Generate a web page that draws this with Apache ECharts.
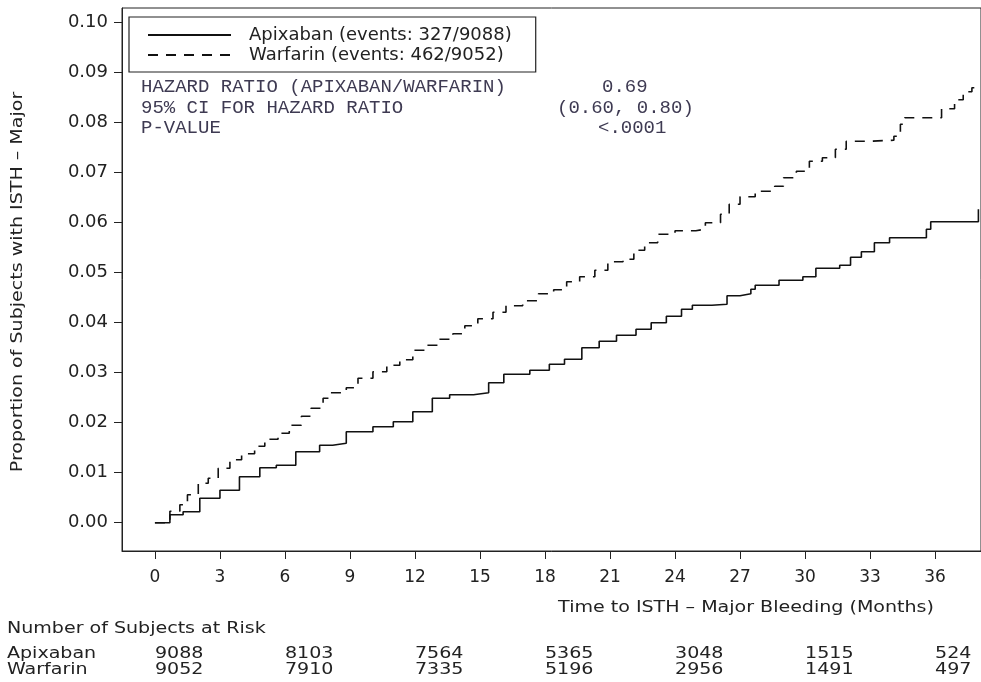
<!DOCTYPE html>
<html>
<head>
<meta charset="utf-8">
<script src="https://cdn.jsdelivr.net/npm/echarts@6/dist/echarts.min.js"></script>
<style>
  html, body { margin: 0; padding: 0; background: #ffffff; }
  #chart { width: 981px; height: 682px; }
</style>
</head>
<body>
<div id="chart"></div>
<script>
// Axis ticks
const monthTicks = [0, 3, 6, 9, 12, 15, 18, 21, 24, 27, 30, 33, 36];
const proportionTicks = [0, 0.01, 0.02, 0.03, 0.04, 0.05, 0.06, 0.07, 0.08, 0.09, 0.10];

// Kaplan-Meier cumulative event curves (month, proportion with event)
const apixabanMonths = [0, 0.69, 1.3, 2.07, 3.0, 3.9, 4.84, 5.6, 6.5, 7.6, 8.2, 8.83, 10.06, 11.0, 11.9, 12.8,
  13.6, 14.7, 15.4, 16.1, 17.3, 18.2, 18.9, 19.7, 20.5, 21.3, 22.2, 22.9, 23.6, 24.3, 24.8, 25.7, 26.4,
  27.0, 27.5, 27.7, 28.8, 29.9, 30.5, 31.6, 32.1, 32.6, 33.2, 33.9, 35.6, 35.8, 38.0];
const apixabanProportion = [0, 0.0016, 0.0022, 0.0049, 0.0065, 0.0092, 0.011, 0.0115, 0.0142, 0.0155, 0.0159,
  0.0182, 0.0192, 0.0202, 0.0222, 0.0249, 0.0256, 0.026, 0.028, 0.0297, 0.0305, 0.0317, 0.0327, 0.035,
  0.0363, 0.0375, 0.0387, 0.04, 0.0413, 0.0427, 0.0435, 0.0437, 0.0454, 0.0458, 0.0467, 0.0475, 0.0485,
  0.0492, 0.0509, 0.0515, 0.0531, 0.0542, 0.056, 0.057, 0.0587, 0.0602, 0.0627];

const warfarinMonths = [0, 0.69, 1.15, 1.5, 2.0, 2.46, 2.92, 3.46, 4.0, 4.6, 5.07, 5.68, 6.2, 6.76, 7.2, 7.76,
  8.06, 8.83, 9.37, 10.06, 10.7, 11.3, 11.9, 12.5, 13.1, 13.75, 14.3, 14.9, 15.6, 16.2, 16.97, 17.7, 18.4,
  19.0, 19.6, 20.3, 20.9, 21.6, 22.1, 22.6, 23.2, 24.0, 24.96, 25.4, 26.1, 26.5, 27.0, 27.7, 28.6, 29.0,
  29.6, 30.2, 30.8, 31.4, 31.9, 33.0, 34.1, 34.4, 34.6, 36.3, 36.9, 37.3, 37.7, 38.1];
const warfarinProportion = [0, 0.0023, 0.0036, 0.0056, 0.0079, 0.0089, 0.0109, 0.0126, 0.0138, 0.0153, 0.0167,
  0.0179, 0.0195, 0.0213, 0.0229, 0.0249, 0.026, 0.027, 0.0289, 0.0302, 0.0315, 0.0326, 0.0345, 0.0355,
  0.0367, 0.0378, 0.0394, 0.0408, 0.0421, 0.0434, 0.0444, 0.0458, 0.0466, 0.0482, 0.0492, 0.0505, 0.0522,
  0.0527, 0.0545, 0.056, 0.0577, 0.0584, 0.0587, 0.06, 0.0617, 0.0637, 0.0652, 0.0663, 0.0673, 0.069,
  0.0703, 0.0723, 0.073, 0.0747, 0.0763, 0.0765, 0.0773, 0.0797, 0.081, 0.0828, 0.0846, 0.0862, 0.087, 0.087];

// Legend names
const apixabanName = 'Apixaban (events: 327/9088)';
const warfarinName = 'Warfarin (events: 462/9052)';

// Hazard ratio summary
const hazardLabels = ['HAZARD RATIO (APIXABAN/WARFARIN)', '95% CI FOR HAZARD RATIO', 'P-VALUE'];
const hazardValues = ['0.69', '(0.60, 0.80)', '<.0001'];

// Number at risk
const atRiskMonths = [0, 6, 12, 18, 24, 30, 36];
const apixabanAtRisk = [9088, 8103, 7564, 5365, 3048, 1515, 524];
const warfarinAtRisk = [9052, 7910, 7335, 5196, 2956, 1491, 497];

const sansFont = '"DejaVu Sans", sans-serif';
const monoFont = '"Liberation Mono", monospace';
const inkColor = '#222222';
const statColor = '#3e3a52';
const wide = 1.19; // horizontal stretch for the wide sans lettering

function pairs(xs, ys) { return xs.map((x, i) => [x, ys[i]]); }

const chart = echarts.init(document.getElementById('chart'), null, { renderer: 'canvas' });

const option = {
  backgroundColor: '#ffffff',
  animation: false,
  grid: { left: 122, top: 8, width: 861, height: 543, show: true, borderColor: '#222', borderWidth: 1, containLabel: false },
  xAxis: {
    type: 'value', min: -1.52, max: 38.12,
    axisLine: { show: true, onZero: false, lineStyle: { color: '#222', width: 1 } },
    axisTick: { show: true, inside: false, length: 8, customValues: monthTicks, lineStyle: { color: '#222' } },
    axisLabel: { customValues: monthTicks, margin: 18, color: inkColor, fontFamily: sansFont, fontSize: 17 },
    splitLine: { show: false }
  },
  yAxis: {
    type: 'value', min: -0.00566, max: 0.10294,
    axisLine: { show: true, onZero: false, lineStyle: { color: '#222', width: 1 } },
    axisTick: { show: true, inside: false, length: 8, customValues: proportionTicks, lineStyle: { color: '#222' } },
    axisLabel: { customValues: proportionTicks, margin: 14, color: inkColor, fontFamily: sansFont, fontSize: 18,
      formatter: v => v.toFixed(2) },
    splitLine: { show: false }
  },
  legend: {
    orient: 'vertical', left: 129, top: 17,
    data: [apixabanName, warfarinName],
    itemWidth: 83, itemHeight: 14, itemGap: 0,
    padding: [8, 24, 7, 18],
    borderColor: '#222', borderWidth: 1.2, backgroundColor: '#fff',
    itemStyle: { opacity: 0 },
    textStyle: { fontFamily: sansFont, fontSize: 18, lineHeight: 20, color: inkColor, padding: [0, 0, 0, 13] }
  },
  series: [
    {
      name: apixabanName, type: 'line', step: 'end', symbol: 'none',
      data: pairs(apixabanMonths, apixabanProportion),
      lineStyle: { color: '#111', width: 1.6, type: 'solid' },
      itemStyle: { color: '#111' }
    },
    {
      name: warfarinName, type: 'line', step: 'end', symbol: 'none',
      data: pairs(warfarinMonths, warfarinProportion),
      lineStyle: { color: '#111', width: 1.6, type: [10, 8] },
      itemStyle: { color: '#111' }
    }
  ]
};
chart.setOption(option);

// Annotation text, axis titles and the at-risk table
const graphics = [];
function sansText(text, x, y, opts) {
  const o = opts || {};
  return { type: 'text', x: x, y: y, rotation: o.rotation || 0, scaleX: wide,
    style: { text: text, font: '16px ' + sansFont, fill: inkColor,
      textAlign: o.align || 'left', textVerticalAlign: 'middle' } };
}

const statRows = [87, 107.5, 128];
const statValueX = [602, 557, 598];
hazardLabels.forEach((t, i) => {
  graphics.push({ type: 'text', x: 141, y: statRows[i],
    style: { text: t, font: '19px ' + monoFont, fill: statColor, textVerticalAlign: 'middle' } });
  graphics.push({ type: 'text', x: statValueX[i], y: statRows[i],
    style: { text: hazardValues[i], font: '19px ' + monoFont, fill: statColor, textVerticalAlign: 'middle' } });
});

graphics.push(sansText('Proportion of Subjects with ISTH \u2013 Major', 18, 282, { rotation: Math.PI / 2, align: 'center' }));
graphics.push(sansText('Time to ISTH \u2013 Major Bleeding (Months)', 746, 608, { align: 'center' }));

graphics.push(sansText('Number of Subjects at Risk', 7, 629));
graphics.push(sansText('Apixaban', 7, 654));
graphics.push(sansText('Warfarin', 7, 670));
atRiskMonths.forEach((m, i) => {
  const px = chart.convertToPixel({ xAxisIndex: 0 }, m);
  graphics.push(sansText(String(apixabanAtRisk[i]), px, 654));
  graphics.push(sansText(String(warfarinAtRisk[i]), px, 670));
});

chart.setOption({ graphic: { elements: graphics } });
</script>
</body>
</html>
